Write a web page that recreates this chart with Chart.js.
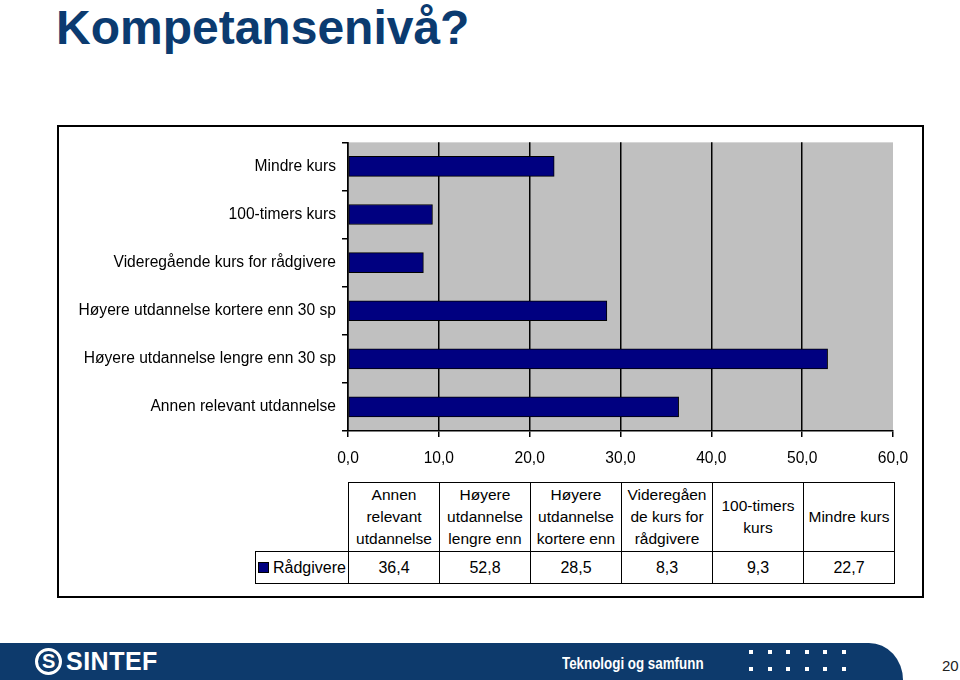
<!DOCTYPE html>
<html>
<head>
<meta charset="utf-8">
<script src="https://cdn.jsdelivr.net/npm/chart.js@4.4.0/dist/chart.umd.min.js"></script>
<style>
  body { margin:0; width:960px; height:680px; background:#fff; position:relative; overflow:hidden; font-family:Arial, "Liberation Sans", sans-serif; }
  #title { position:absolute; left:56px; top:4px; font-size:48px; line-height:48px; font-weight:bold; color:#0b3b70; }
  #box { position:absolute; left:57px; top:125px; width:863px; height:469px; border:2px solid #000; }
  #chart { position:absolute; left:60px; top:127px; }
  #tbl { position:absolute; left:255px; top:482px; width:639px; border-collapse:collapse; table-layout:fixed; }
  #tbl td { border:1px solid #000; padding:0 2px; text-align:center; color:#000; box-sizing:border-box; }
  #tbl tr.head td { height:69px; font-size:15.5px; line-height:22px; vertical-align:middle; }
  #tbl tr.head td div { max-height:66px; overflow:hidden; overflow-wrap:anywhere; }
  #tbl tr.head td.blank { border:none; }
  #tbl tr.vals td { height:32px; font-size:16px; }
  #tbl tr.vals td.leg { text-align:left; padding-left:2px; white-space:nowrap; overflow:hidden; }
  .sw { display:inline-block; width:9px; height:9px; background:#000080; border:1px solid #000; margin-right:4px; vertical-align:0px; }
  #footer { position:absolute; left:0; top:643px; width:903px; height:37px; background:#0d3a6c; border-top-right-radius:34px 37px; }
  #logo { position:absolute; left:35px; top:5px; width:21px; height:21px; border:3px solid #fff; border-radius:50%; }
  #logo span { position:absolute; left:4px; top:-3px; color:#fff; font-weight:bold; font-size:20px; line-height:26px; }
  #sintef { position:absolute; left:66px; top:4px; color:#fff; font-weight:bold; font-size:25px; line-height:28px; letter-spacing:0.5px; }
  #tek { position:absolute; left:562px; top:11px; color:#fff; font-weight:bold; font-size:16.5px; line-height:19px; transform:scaleX(0.81); transform-origin:0 0; white-space:nowrap; }
  .dot { position:absolute; width:4px; height:4px; background:#fff; }
  #page { position:absolute; left:942px; top:657px; font-size:15px; color:#222; }
</style>
</head>
<body>
<div id="title">Kompetansenivå?</div>
<div id="box"></div>
<canvas id="chart" width="862" height="346" style="width:862px;height:346px"></canvas>
<table id="tbl">
  <colgroup id="cols"><col style="width:93px"></colgroup>
  <tr class="head" id="headRow"><td class="blank"></td></tr>
  <tr class="vals" id="valRow"><td class="leg"><span class="sw"></span><span id="serName"></span></td></tr>
</table>
<div id="footer">
  <div id="logo"><span>S</span></div>
  <div id="sintef">SINTEF</div>
  <div id="tek">Teknologi og samfunn</div>
</div>
<div id="page">20</div>
<script>
// data
const categories = [
  'Annen relevant utdannelse',
  'Høyere utdannelse lengre enn 30 sp',
  'Høyere utdannelse kortere enn 30 sp',
  'Videregående kurs for rådgivere',
  '100-timers kurs',
  'Mindre kurs'
];
const seriesName = 'Rådgivere';
const values = [36.4, 52.8, 28.5, 8.3, 9.3, 22.7];
const xTicks = [0, 10, 20, 30, 40, 50, 60];

const fmt = v => v.toFixed(1).replace('.', ',');

// data table under the chart
const headRow = document.getElementById('headRow');
const valRow = document.getElementById('valRow');
const cols = document.getElementById('cols');
document.getElementById('serName').textContent = seriesName;
categories.forEach((c, i) => {
  const col = document.createElement('col');
  col.style.width = '91px';
  cols.appendChild(col);
  const h = document.createElement('td');
  const d = document.createElement('div');
  d.textContent = c;
  h.appendChild(d);
  headRow.appendChild(h);
  const v = document.createElement('td');
  v.textContent = fmt(values[i]);
  valRow.appendChild(v);
});

// footer dots
[650, 667].forEach(y => {
  for (let k = 0; k < 6; k++) {
    const d = document.createElement('div');
    d.className = 'dot';
    d.style.left = (749 + k * 18.5) + 'px';
    d.style.top = y + 'px';
    document.body.appendChild(d);
  }
});

const plotBg = {
  id: 'plotBg',
  beforeDraw(chart) {
    const a = chart.chartArea, ctx = chart.ctx;
    ctx.save();
    ctx.fillStyle = '#c0c0c0';
    ctx.fillRect(a.left, a.top, a.right - a.left, a.bottom - a.top);
    ctx.restore();
  }
};

new Chart(document.getElementById('chart'), {
  type: 'bar',
  data: {
    labels: categories,
    datasets: [{
      label: seriesName,
      data: values,
      backgroundColor: '#000080',
      borderColor: '#000',
      borderWidth: 1,
      borderSkipped: false,
      barThickness: 20
    }]
  },
  options: {
    indexAxis: 'y',
    responsive: false,
    animation: false,
    devicePixelRatio: 1,
    layout: { padding: { top: 13, right: 29, left: 0, bottom: 0 } },
    plugins: { legend: { display: false }, tooltip: { enabled: false } },
    scales: {
      x: {
        min: xTicks[0],
        max: xTicks[xTicks.length - 1],
        afterBuildTicks: s => { s.ticks = xTicks.map(v => ({ value: v })); },
        afterFit: s => { s.height = 42; },
        ticks: { callback: v => fmt(v), color: '#000', font: { family: 'Arial', size: 15.6 }, padding: 12, maxRotation: 0 },
        grid: {
          color: c => (c.tick && c.tick.value === 60) ? 'rgba(0,0,0,0)' : '#000',
          tickColor: '#000',
          lineWidth: 1.5,
          tickLength: 6
        },
        border: { color: '#000', width: 1.5 }
      },
      y: {
        reverse: true,
        afterFit: s => { s.width = 288; },
        ticks: { color: '#000', font: { family: 'Arial', size: 15.6 }, padding: 6 },
        grid: { drawOnChartArea: false, offset: true, tickLength: 6, color: '#000', lineWidth: 1.5 },
        border: { color: '#000', width: 1.5 }
      }
    }
  },
  plugins: [plotBg]
});
</script>
</body>
</html>
